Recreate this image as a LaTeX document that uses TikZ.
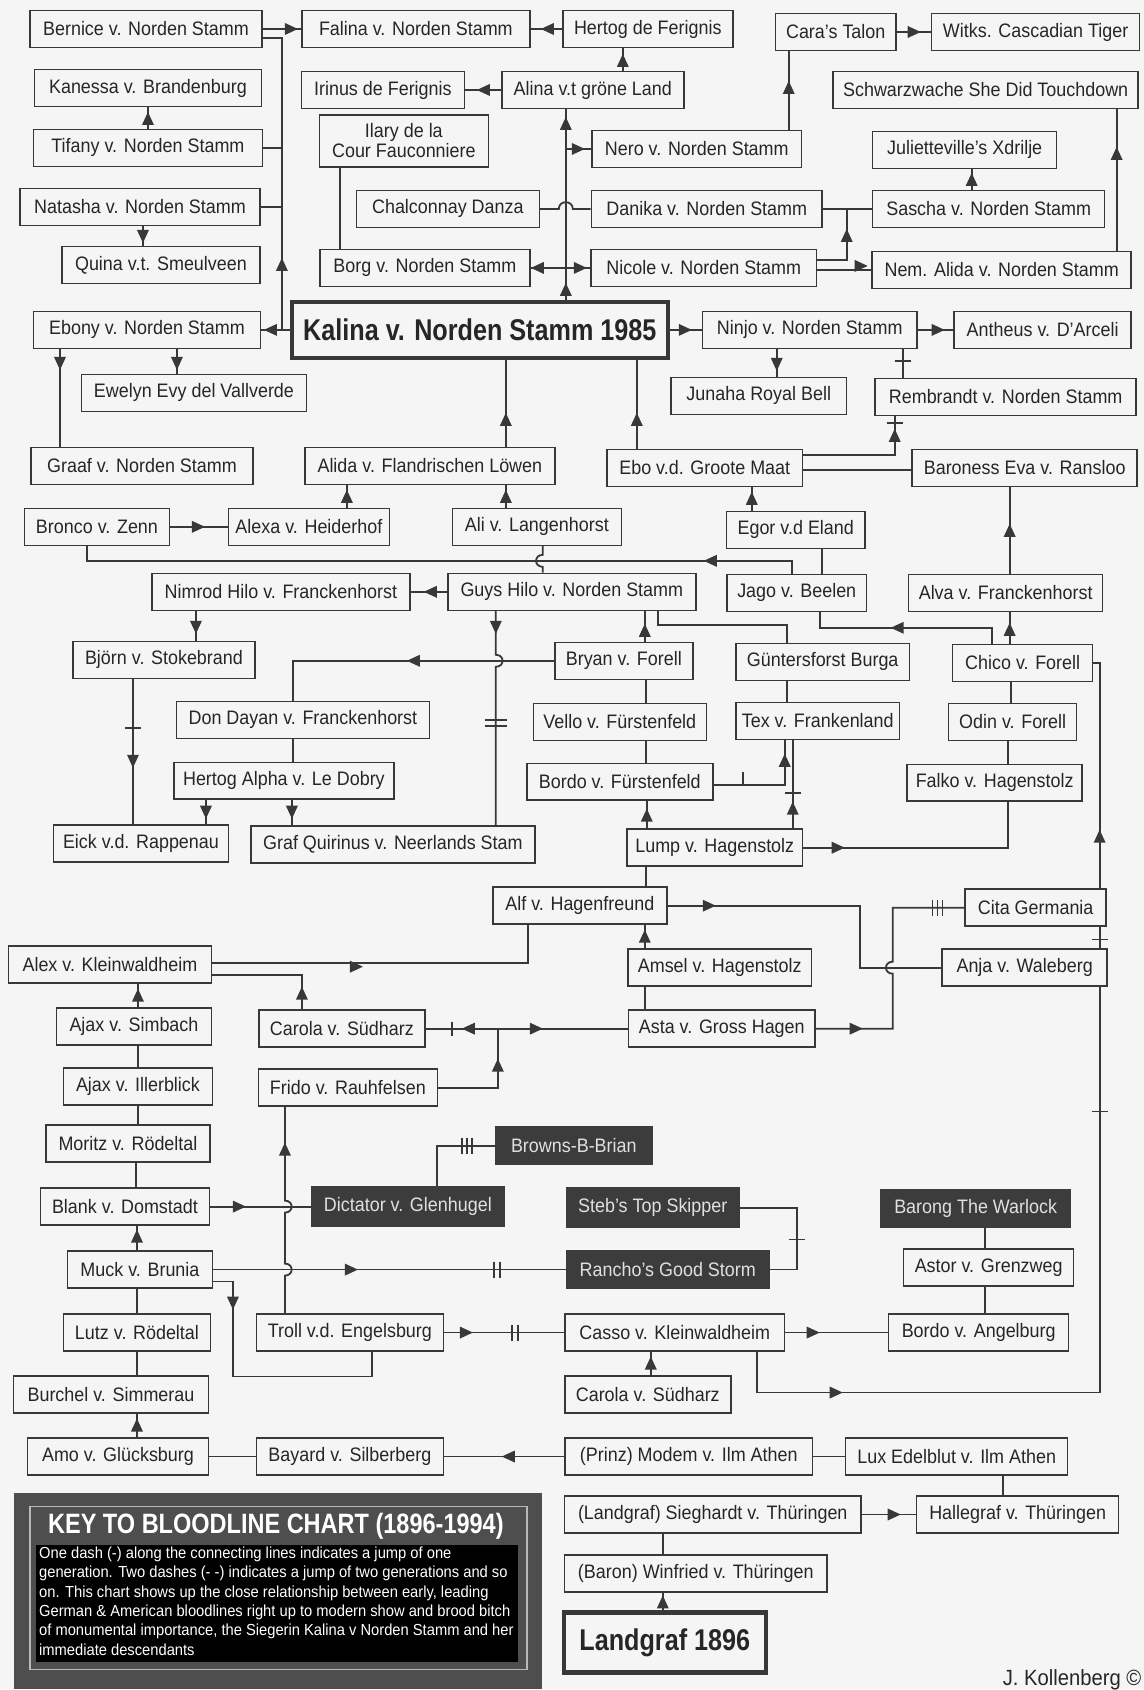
\documentclass[tikz,border=0pt]{standalone}
\usepackage{fontspec}
\setmainfont{Liberation Sans}[FakeStretch=0.92]
\newfontfamily\bigfont{Liberation Sans}[FakeStretch=0.84]
\usetikzlibrary{calc}
\pgfdeclarelayer{bgl}
\pgfsetlayers{bgl,main}
\definecolor{bg}{HTML}{F5F5F5}
\definecolor{lc}{HTML}{383838}
\definecolor{tc}{HTML}{262626}
\definecolor{dk}{HTML}{3C3C3C}
\definecolor{keyo}{HTML}{4E4E4E}
\tikzset{
  ar/.pic={\fill[lc] (7,0) -- (-6,-6) -- (-6,6) -- cycle;},
  al/.pic={\fill[lc] (-7,0) -- (6,-6) -- (6,6) -- cycle;},
  au/.pic={\fill[lc] (0,-7) -- (-6,6) -- (6,6) -- cycle;},
  ad/.pic={\fill[lc] (0,7) -- (-6,-6) -- (6,-6) -- cycle;},
  th/.pic={\draw[lc,line width=1.6pt] (0,-7) -- (0,7);},
  thtwo/.pic={\draw[lc,line width=1.6pt] (-3,-8) -- (-3,8) (3,-8) -- (3,8);},
  ththree/.pic={\draw[lc,line width=1.6pt] (-5,-8) -- (-5,8) (0,-8) -- (0,8) (5,-8) -- (5,8);},
  tv/.pic={\draw[lc,line width=1.6pt] (-8,0) -- (8,0);},
  tvtwo/.pic={\draw[lc,line width=1.6pt] (-11,-3) -- (11,-3) (-11,3) -- (11,3);},
}
\begin{document}
\begin{tikzpicture}[x=1pt,y=-1pt,
  bx/.style={draw=lc, line width=1.5pt, fill=bg, text=tc, minimum height=37pt, inner sep=0pt,
             font=\fontsize{19.5}{20}\selectfont},
  mw/.style={minimum width=#1pt},
  dbx/.style={bx, fill=dk, draw=dk, text=white!88!black},
  bigbox/.style={bx, line width=4pt, font=\bigfont\bfseries\fontsize{30}{32}\selectfont},
  conn/.style={draw=lc, line width=1.8pt}]

% ---------- nodes ----------
\node[bx,mw=232] (bernice) at (146,29) {Bernice v. Norden Stamm};
\node[bx,mw=228] (falina) at (416,29) {Falina v. Norden Stamm};
\node[bx,mw=170] (hertog) at (648,29) {Hertog de Ferignis};
\node[bx,mw=121] (cara) at (836,32) {Cara's Talon};
\node[bx,mw=208] (witks) at (1036,32) {Witks. Cascadian Tiger};
\node[bx,mw=227] (kanessa) at (148,88) {Kanessa v. Brandenburg};
\node[bx,mw=163] (irinus) at (383,90) {Irinus de Ferignis};
\node[bx,mw=182] (alina) at (593,90) {Alina v.t gröne Land};
\node[bx,mw=305] (schwarz) at (986,90) {Schwarzwache She Did Touchdown};
\node[bx,mw=229] (tifany) at (148,148) {Tifany v. Norden Stamm};
\node[bx,mw=169,minimum height=52pt,align=center] (ilary) at (404,141) {Ilary de la\\Cour Fauconniere};
\node[bx,mw=210] (nero) at (697,149) {Nero v. Norden Stamm};
\node[bx,mw=184] (juliette) at (965,150) {Julietteville's Xdrilje};
\node[bx,mw=240] (natasha) at (140,207) {Natasha v. Norden Stamm};
\node[bx,mw=183] (chalc) at (448,209) {Chalconnay Danza};
\node[bx,mw=231] (danika) at (707,209) {Danika v. Norden Stamm};
\node[bx,mw=232] (sascha) at (989,209) {Sascha v. Norden Stamm};
\node[bx,mw=198] (quina) at (161,265) {Quina v.t. Smeulveen};
\node[bx,mw=210] (borg) at (425,268) {Borg v. Norden Stamm};
\node[bx,mw=226] (nicole) at (704,268) {Nicole v. Norden Stamm};
\node[bx,mw=259] (nem) at (1002,270) {Nem. Alida v. Norden Stamm};
\node[bx,mw=227] (ebony) at (147,330) {Ebony v. Norden Stamm};
\node[bigbox,mw=376,minimum height=56pt] (kalina) at (480,330) {Kalina v. Norden Stamm 1985};
\node[bx,mw=215] (ninjo) at (810,330) {Ninjo v. Norden Stamm};
\node[bx,mw=177] (antheus) at (1043,330) {Antheus v. D'Arceli};
\node[bx,mw=225] (ewelyn) at (194,393) {Ewelyn Evy del Vallverde};
\node[bx,mw=176] (junaha) at (759,396) {Junaha Royal Bell};
\node[bx,mw=261] (rembrandt) at (1006,397) {Rembrandt v. Norden Stamm};
\node[bx,mw=222] (graaf) at (142,466) {Graaf v. Norden Stamm};
\node[bx,mw=250] (alida) at (430,466) {Alida v. Flandrischen Löwen};
\node[bx,mw=196] (ebo) at (705,468) {Ebo v.d. Groote Maat};
\node[bx,mw=225] (baroness) at (1025,468) {Baroness Eva v. Ransloo};
\node[bx,mw=145] (bronco) at (97,527) {Bronco v. Zenn};
\node[bx,mw=161] (alexa) at (309,527) {Alexa v. Heiderhof};
\node[bx,mw=169] (ali) at (537,527) {Ali v. Langenhorst};
\node[bx,mw=139] (egor) at (796,530) {Egor v.d Eland};
\node[bx,mw=258] (nimrod) at (281,592) {Nimrod Hilo v. Franckenhorst};
\node[bx,mw=248] (guys) at (572,592) {Guys Hilo v. Norden Stamm};
\node[bx,mw=140] (jago) at (797,593) {Jago v. Beelen};
\node[bx,mw=194] (alva) at (1006,593) {Alva v. Franckenhorst};
\node[bx,mw=182] (bjorn) at (164,660) {Björn v. Stokebrand};
\node[bx,mw=138] (bryan) at (624,661) {Bryan v. Forell};
\node[bx,mw=174] (gunters) at (823,662) {Güntersforst Burga};
\node[bx,mw=140] (chico) at (1023,663) {Chico v. Forell};
\node[bx,mw=253] (dondayan) at (303,720) {Don Dayan v. Franckenhorst};
\node[bx,mw=173] (vello) at (620,722) {Vello v. Fürstenfeld};
\node[bx,mw=164] (tex) at (818,721) {Tex v. Frankenland};
\node[bx,mw=128] (odin) at (1013,722) {Odin v. Forell};
\node[bx,mw=220] (hertoga) at (284,781) {Hertog Alpha v. Le Dobry};
\node[bx,mw=186] (bordof) at (620,782) {Bordo v. Fürstenfeld};
\node[bx,mw=175] (falko) at (995,783) {Falko v. Hagenstolz};
\node[bx,mw=175] (eick) at (141,844) {Eick v.d. Rappenau};
\node[bx,mw=284] (grafq) at (393,845) {Graf Quirinus v. Neerlands Stam};
\node[bx,mw=176] (lump) at (715,848) {Lump v. Hagenstolz};
\node[bx,mw=174] (alf) at (580,906) {Alf v. Hagenfreund};
\node[bx,mw=141] (cita) at (1036,908) {Cita Germania};
\node[bx,mw=203] (alex) at (110,965) {Alex v. Kleinwaldheim};
\node[bx,mw=184] (amsel) at (720,968) {Amsel v. Hagenstolz};
\node[bx,mw=165] (anja) at (1025,968) {Anja v. Waleberg};
\node[bx,mw=155] (ajaxs) at (134,1027) {Ajax v. Simbach};
\node[bx,mw=166] (carola1) at (342,1029) {Carola v. Südharz};
\node[bx,mw=187] (asta) at (722,1029) {Asta v. Gross Hagen};
\node[bx,mw=149] (ajaxi) at (138,1087) {Ajax v. Illerblick};
\node[bx,mw=179] (frido) at (348,1088) {Frido v. Rauhfelsen};
\node[bx,mw=164] (moritz) at (128,1144) {Moritz v. Rödeltal};
\node[dbx,mw=156] (browns) at (574,1146) {Browns-B-Brian};
\node[bx,mw=169] (blank) at (125,1207) {Blank v. Domstadt};
\node[dbx,mw=193,minimum height=40pt] (dictator) at (408,1207) {Dictator v. Glenhugel};
\node[dbx,mw=173,minimum height=40pt] (stebs) at (653,1208) {Steb's Top Skipper};
\node[dbx,mw=189] (barong) at (976,1209) {Barong The Warlock};
\node[bx,mw=145] (muck) at (140,1270) {Muck v. Brunia};
\node[dbx,mw=202] (rancho) at (668,1270) {Rancho's Good Storm};
\node[bx,mw=170] (astor) at (989,1268) {Astor v. Grenzweg};
\node[bx,mw=147] (lutz) at (137,1333) {Lutz v. Rödeltal};
\node[bx,mw=187] (troll) at (350,1333) {Troll v.d. Engelsburg};
\node[bx,mw=220] (casso) at (675,1333) {Casso v. Kleinwaldheim};
\node[bx,mw=180] (bordoa) at (979,1333) {Bordo v. Angelburg};
\node[bx,mw=195] (burchel) at (111,1395) {Burchel v. Simmerau};
\node[bx,mw=166] (carola2) at (648,1395) {Carola v. Südharz};
\node[bx,mw=181] (amo) at (118,1457) {Amo v. Glücksburg};
\node[bx,mw=187] (bayard) at (350,1457) {Bayard v. Silberberg};
\node[bx,mw=248] (modem) at (689,1457) {(Prinz) Modem v. Ilm Athen};
\node[bx,mw=222] (lux) at (957,1457) {Lux Edelblut v. Ilm Athen};
\node[bx,mw=297] (sieghardt) at (713,1515) {(Landgraf) Sieghardt v. Thüringen};
\node[bx,mw=202] (hallegraf) at (1018,1515) {Hallegraf v. Thüringen};
\node[bx,mw=263] (winfried) at (696,1574) {(Baron) Winfried v. Thüringen};
\node[bigbox,mw=202,minimum height=60pt,line width=4.5pt] (landgraf) at (665,1643) {Landgraf 1896};

% ---------- key ----------
\fill[keyo] (14,1493) rectangle (542,1690);
\draw[white!72!black, line width=1.5pt] (30,1507) rectangle (527,1670);
\fill[black] (36,1545) rectangle (518,1663);
\node[text=white, inner sep=0pt, font=\bigfont\bfseries\fontsize{28}{30}\selectfont] (keytitle) at (276,1527) {KEY TO BLOODLINE CHART (1896-1994)};
\node[anchor=north west, text=white, inner sep=0pt, align=left, font=\fontsize{16}{19.4}\selectfont] (keybody) at (39,1547)
 {One dash (-) along the connecting lines indicates a jump of one\\
  generation. Two dashes (- -) indicates a jump of two generations and so\\
  on. This chart shows up the close relationship between early, leading\\
  German \& American bloodlines right up to modern show and brood bitch\\
  of monumental importance, the Siegerin Kalina v Norden Stamm and her\\
  immediate descendants};
\node[anchor=base east, text=tc, inner sep=0pt, font=\fontsize{22}{24}\selectfont] (credit) at (1142,1686) {J. Kollenberg ©};

% ---------- connectors ----------
\begin{pgfonlayer}{bgl}
\fill[bg] (0,0) rectangle (1144,1690);
\draw[conn] (bernice.east) -- (falina.west);
\draw[conn] ([yshift=-9pt]bernice.east) -| (282,330);
\draw[conn] (kalina.west) -- (ebony.east);
\draw[conn] (tifany.east) -- (282,0 |- tifany.east);
\draw[conn] (natasha.east) -- (282,0 |- natasha.east);
\draw[conn] (148,0 |- tifany.north) -- (148,0 |- kanessa.south);
\draw[conn] (143,0 |- natasha.south) -- (143,0 |- quina.north);
\draw[conn] (hertog.west) -- (falina.east);
\draw[conn] (623,0 |- alina.north) -- (623,0 |- hertog.south);
\draw[conn] (alina.west) -- (irinus.east);
\draw[conn] (566,0 |- kalina.north) -- (566,0 |- alina.south);
\draw[conn] (566,0 |- nero.west) -- (nero.west);
\draw[conn] (chalc.east) -- (559,209) .. controls +(0,-9) and +(0,-9) .. (573,209) -- (danika.west);
\draw[conn] (borg.east) -- (nicole.west);
\draw[conn] (340,0 |- ilary.south) -- (340,0 |- borg.north);
\draw[conn] (kalina.east) -- (ninjo.west);
\draw[conn] (789,0 |- nero.north) -- (789,0 |- cara.south);
\draw[conn] (cara.east) -- (witks.west);
\draw[conn] (972,0 |- sascha.north) -- (972,0 |- juliette.south);
\draw[conn] (danika.east) -- (sascha.west);
\draw[conn] ([yshift=8pt]nicole.east) -| (847,209);
\draw[conn] ([yshift=-2pt]nicole.east) -- ([yshift=-2pt]nicole.east -| nem.west);
\draw[conn] (1117,0 |- nem.north) -- (1117,0 |- schwarz.south);
\draw[conn] (ninjo.east) -- (antheus.west);
\draw[conn] (777,0 |- ninjo.south) -- (777,0 |- junaha.north);
\draw[conn] (903,0 |- ninjo.south) -- (903,0 |- rembrandt.north);
\draw[conn] ([yshift=13pt]ebo.east) -| (895,0 |- rembrandt.south);
\draw[conn] ([yshift=-2pt]ebo.east) -- ([yshift=-2pt]ebo.east -| baroness.west);
\draw[conn] (506,0 |- alida.north) -- (506,0 |- kalina.south);
\draw[conn] (637,0 |- ebo.north) -- (637,0 |- kalina.south);
\draw[conn] (60,0 |- ebony.south) -- (60,0 |- graaf.north);
\draw[conn] (177,0 |- ebony.south) -- (177,0 |- ewelyn.north);
\draw[conn] (347,0 |- alexa.north) -- (347,0 |- alida.south);
\draw[conn] (bronco.east) -- (alexa.west);
\draw[conn] (506,0 |- ali.north) -- (506,0 |- alida.south);
\draw[conn] (752,0 |- egor.north) -- (752,0 |- ebo.south);
\draw[conn] (822,0 |- egor.south) -- (822,0 |- jago.north);
\draw[conn] (87,0 |- bronco.south) |- (792,561) -- (792,0 |- jago.north);
\draw[conn] (543,0 |- ali.south) -- (543,555) .. controls +(-9,0) and +(-9,0) .. (543,567) -- (543,0 |- guys.north);
\draw[conn] (guys.west) -- (nimrod.east);
\draw[conn] (196,0 |- nimrod.south) -- (196,0 |- bjorn.north);
\draw[conn] (133,0 |- bjorn.south) -- (133,0 |- eick.north);
\draw[conn] (820,0 |- jago.south) |- (992,628) -- (992,0 |- chico.north);
\draw[conn] (658,0 |- guys.south) |- (787,625) -- (787,0 |- gunters.north);
\draw[conn] (1010,0 |- chico.north) -- (1010,0 |- alva.south);
\draw[conn] (1010,0 |- alva.north) -- (1010,0 |- baroness.south);
\draw[conn] (645,0 |- bryan.north) -- (645,0 |- guys.south);
\draw[conn] (bryan.west) -| (293,0 |- dondayan.north);
\draw[conn] (496,0 |- guys.south) -- (496,655) .. controls +(9,0) and +(9,0) .. (496,667) -- (496,0 |- grafq.north);
\draw[conn] (787,0 |- gunters.south) -- (787,0 |- tex.north);
\draw[conn] (646,0 |- bryan.south) -- (646,0 |- vello.north);
\draw[conn] (646,0 |- vello.south) -- (646,0 |- bordof.north);
\draw[conn] (1011,0 |- chico.south) -- (1011,0 |- odin.north);
\draw[conn] (1008,0 |- odin.south) -- (1008,0 |- falko.north);
\draw[conn] (293,0 |- dondayan.south) -- (293,0 |- hertoga.north);
\draw[conn] (206,0 |- hertoga.south) -- (206,0 |- eick.north);
\draw[conn] (292,0 |- hertoga.south) -- (292,0 |- grafq.north);
\draw[conn] ([yshift=-3pt]bordof.east) -| (785,0 |- tex.south);
\draw[conn] (793,0 |- lump.north) -- (793,0 |- tex.south);
\draw[conn] (647,0 |- lump.north) -- (647,0 |- bordof.south);
\draw[conn] (lump.east) -| (1008,0 |- falko.south);
\draw[conn] (646,0 |- lump.south) -- (646,0 |- alf.north);
\draw[conn] (alf.east) -| (860,968) -- (anja.west);
\draw[conn] (asta.east) -- (893,1029) -- (893,974) .. controls +(-9,0) and +(-9,0) .. (893,962) -- (893,908) -- (cita.west);
\draw[conn] (645,0 |- amsel.north) -- (645,0 |- alf.south);
\draw[conn] (645,0 |- asta.north) -- (645,0 |- amsel.south);
\draw[conn] (carola1.east) -- (asta.west);
\draw[conn] (frido.east) -| (498,1029);
\draw[conn] ([yshift=2pt]alex.east) -| (528,0 |- alf.south);
\draw[conn] ([yshift=-10pt]alex.east) -| (302,0 |- carola1.north);
\draw[conn] (138,0 |- ajaxs.north) -- (138,0 |- alex.south);
\draw[conn] (138,0 |- ajaxs.south) -- (138,0 |- ajaxi.north);
\draw[conn] (138,0 |- ajaxi.south) -- (138,0 |- moritz.north);
\draw[conn] (136,0 |- moritz.south) -- (136,0 |- blank.north);
\draw[conn] (blank.east) -- (dictator.west);
\draw[conn] (285,0 |- troll.north) -- (285,1276) .. controls +(9,0) and +(9,0) .. (285,1264) -- (285,1213) .. controls +(9,0) and +(9,0) .. (285,1201) -- (285,0 |- frido.south);
\draw[conn] (137,0 |- muck.north) -- (137,0 |- blank.south);
\draw[conn] (muck.east) -- (rancho.west);
\draw[conn] ([yshift=-12pt]muck.east) -| (233,1377) -| (372,0 |- troll.south);
\draw[conn] (437,0 |- dictator.north) |- (browns.west);
\draw[conn] (stebs.east) -| (797,1270) -- (rancho.east);
\draw[conn] (985,0 |- barong.south) -- (985,0 |- astor.north);
\draw[conn] (985,0 |- astor.south) -- (985,0 |- bordoa.north);
\draw[conn] (casso.east) -- (bordoa.west);
\draw[conn] (troll.east) -- (casso.west);
\draw[conn] (651,0 |- carola2.north) -- (651,0 |- casso.south);
\draw[conn] (757,0 |- casso.south) |- (1100,1393) |- (chico.east);
\draw[conn] (137,0 |- muck.south) -- (137,0 |- lutz.north);
\draw[conn] (137,0 |- lutz.south) -- (137,0 |- burchel.north);
\draw[conn] (137,0 |- amo.north) -- (137,0 |- burchel.south);
\draw[conn] (amo.east) -- (bayard.west);
\draw[conn] (modem.west) -- (bayard.east);
\draw[conn] (modem.east) -- (lux.west);
\draw[conn] (1003,0 |- lux.south) -- (1003,0 |- hallegraf.north);
\draw[conn] (sieghardt.east) -- (hallegraf.west);
\draw[conn] (663,0 |- winfried.north) -- (663,0 |- sieghardt.south);
\draw[conn] (663,0 |- landgraf.north) -- (663,0 |- winfried.south);
\end{pgfonlayer}

% ---------- arrowheads and ticks ----------
\pic at (291,29) {ar};
\pic at (282,265) {au};
\pic at (271,330) {al};
\pic at (148,119) {au};
\pic at (143,236) {ad};
\pic at (548,29) {al};
\pic at (623,61) {au};
\pic at (484,90) {al};
\pic at (566,124) {au};
\pic at (566,290) {au};
\pic at (578,149) {ar};
\pic at (538,268) {al};
\pic at (580,268) {ar};
\pic at (685,330) {ar};
\pic at (789,88) {au};
\pic at (914,32) {ar};
\pic at (972,180) {au};
\pic at (847,236) {au};
\pic at (861,266) {ar};
\pic at (1117,154) {au};
\pic at (938,330) {ar};
\pic at (777,364) {ad};
\pic at (903,361) {tv};
\pic at (895,423) {tv};
\pic at (895,436) {au};
\pic at (506,420) {au};
\pic at (637,420) {au};
\pic at (60,363) {ad};
\pic at (177,363) {ad};
\pic at (347,497) {au};
\pic at (198,527) {ar};
\pic at (506,497) {au};
\pic at (752,499) {au};
\pic at (711,561) {al};
\pic at (431,592) {al};
\pic at (196,627) {ad};
\pic at (133,728) {tv};
\pic at (133,761) {ad};
\pic at (898,628) {al};
\pic at (1010,630) {au};
\pic at (1010,531) {au};
\pic at (645,631) {au};
\pic at (414,661) {al};
\pic at (496,627) {ad};
\pic at (496,723) {tvtwo};
\pic at (206,812) {ad};
\pic at (292,812) {ad};
\pic at (743,779) {th};
\pic at (785,761) {au};
\pic at (793,793) {tv};
\pic at (793,809) {au};
\pic at (647,816) {au};
\pic at (838,848) {ar};
\pic at (709,906) {ar};
\pic at (856,1029) {ar};
\pic at (938,908) {ththree};
\pic at (645,937) {au};
\pic at (469,1029) {al};
\pic at (452,1029) {th};
\pic at (536,1029) {ar};
\pic at (498,1066) {au};
\pic at (356,967) {ar};
\pic at (302,994) {au};
\pic at (138,996) {au};
\pic at (239,1207) {ar};
\pic at (285,1150) {au};
\pic at (137,1237) {au};
\pic at (351,1270) {ar};
\pic at (497,1270) {thtwo};
\pic at (233,1303) {ad};
\pic at (467,1146) {ththree};
\pic at (797,1240) {tv};
\pic at (813,1333) {ar};
\pic at (466,1333) {ar};
\pic at (515,1333) {thtwo};
\pic at (651,1364) {au};
\pic at (836,1393) {ar};
\pic at (1100,837) {au};
\pic at (1100,940) {tv};
\pic at (1100,1112) {tv};
\pic at (137,1426) {au};
\pic at (509,1457) {al};
\pic at (894,1515) {ar};
\pic at (663,1603) {au};
\end{tikzpicture}
\end{document}
